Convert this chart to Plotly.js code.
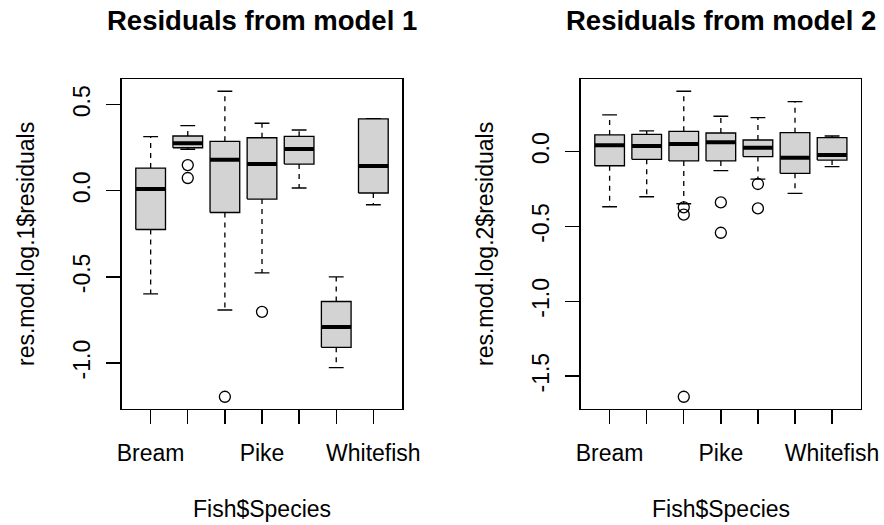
<!DOCTYPE html>
<html>
<head>
<meta charset="utf-8">
<script src="https://cdn.plot.ly/plotly-3.0.1.min.js"></script>
<style>html,body{margin:0;padding:0;background:#fff;}#chart{width:884px;height:525px;}</style>
</head>
<body>
<div id="chart"></div>
<script>
// ---- data ----
const species = ['Bream','Parkki','Perch','Pike','Roach','Smelt','Whitefish'];
const xTickText = ['Bream','','','Pike','','','Whitefish'];

// model 1 box statistics
const m1Lower  = [-0.599, 0.241, -0.692, -0.477, 0.016, -1.027, -0.081];
const m1Q1     = [-0.225, 0.250, -0.126, -0.048, 0.155, -0.909, -0.013];
const m1Median = [ 0.010, 0.276,  0.180,  0.155, 0.242, -0.791,  0.144];
const m1Q3     = [ 0.132, 0.318,  0.287,  0.308, 0.316, -0.643,  0.417];
const m1Upper  = [ 0.314, 0.378,  0.578,  0.392, 0.353, -0.500,  0.419];
const m1OutSpecies = ['Parkki','Parkki','Perch','Pike'];
const m1OutValues  = [0.149, 0.074, -1.196, -0.703];
const m1YTickVals = [-1.0, -0.5, 0.0, 0.5];
const m1YTickText = ['-1.0','-0.5','0.0','0.5'];

// model 2 box statistics
const m2Lower  = [-0.368, -0.301, -0.348, -0.127, -0.183, -0.279, -0.100];
const m2Q1     = [-0.094, -0.051, -0.062, -0.062, -0.033, -0.145, -0.056];
const m2Median = [ 0.043,  0.038,  0.052,  0.063,  0.027, -0.040, -0.022];
const m2Q3     = [ 0.112,  0.116,  0.136,  0.125,  0.078,  0.127,  0.094];
const m2Upper  = [ 0.246,  0.139,  0.404,  0.237,  0.228,  0.335,  0.105];
const m2OutSpecies = ['Perch','Perch','Perch','Pike','Pike','Roach','Roach'];
const m2OutValues  = [-0.372, -0.421, -1.638, -0.339, -0.542, -0.216, -0.379];
const m2YTickVals = [-1.5, -1.0, -0.5, 0.0];
const m2YTickText = ['-1.5','-1.0','-0.5','0.0'];

const titles = ['Residuals from model 1','Residuals from model 2'];
const yTitles = ['res.mod.log.1$residuals','res.mod.log.2$residuals'];
const xTitle = 'Fish$Species';

// ---- drawing ----
const FONT = 'Liberation Sans, Arial, Helvetica, sans-serif';
const LW = 1.33;
const half = 0.4, staple = 0.2;

function panelTraces(lower, q1, med, q3, upper, outS, outV, xa, ya) {
  const bx=[],by=[],wx=[],wy=[],sx=[],sy=[],mx=[],my=[];
  species.forEach((s,i)=>{
    const c=i+1;
    bx.push(c-half,c+half,c+half,c-half,c-half,null);
    by.push(q1[i],q1[i],q3[i],q3[i],q1[i],null);
    wx.push(c,c,null,c,c,null);
    wy.push(q3[i],upper[i],null,q1[i],lower[i],null);
    sx.push(c-staple,c+staple,null,c-staple,c+staple,null);
    sy.push(upper[i],upper[i],null,lower[i],lower[i],null);
    mx.push(c-half,c+half,null);
    my.push(med[i],med[i],null);
  });
  const ox = outS.map(s=>species.indexOf(s)+1);
  const base={xaxis:xa,yaxis:ya,mode:'lines',hoverinfo:'skip',showlegend:false};
  return [
    Object.assign({},base,{x:wx,y:wy,line:{color:'#000',width:LW,dash:'5px,5px'}}),
    Object.assign({},base,{x:sx,y:sy,line:{color:'#000',width:LW}}),
    Object.assign({},base,{x:bx,y:by,fill:'toself',fillcolor:'#d3d3d3',line:{color:'#000',width:LW}}),
    Object.assign({},base,{x:mx,y:my,line:{color:'#000',width:4}}),
    {x:ox,y:outV,xaxis:xa,yaxis:ya,mode:'markers',showlegend:false,hoverinfo:'skip',
     marker:{symbol:'circle-open',size:11,color:'#000',line:{width:LW,color:'#000'}}}
  ];
}

function rng(lo, hi){ const a=Math.min(...lo), b=Math.max(...hi); const d=(b-a)*0.04; return [a-d,b+d]; }
const all1Lo = m1Lower.concat(m1OutValues), all1Hi = m1Upper.concat(m1OutValues);
const all2Lo = m2Lower.concat(m2OutValues), all2Hi = m2Upper.concat(m2OutValues);

const data = panelTraces(m1Lower,m1Q1,m1Median,m1Q3,m1Upper,m1OutSpecies,m1OutValues,'x','y')
  .concat(panelTraces(m2Lower,m2Q1,m2Median,m2Q3,m2Upper,m2OutSpecies,m2OutValues,'x2','y2'));

const W=884,H=525;
const xd1=[121.7/W,402.3/W], xd2=[580.7/W,861/W], yd=[(H-409)/H,(H-79)/H];
const nCat = species.length;
const xr=[0.5-0.04*nCat, nCat+0.5+0.04*nCat];

function xax(dom,anchor){return {domain:dom,anchor:anchor,range:xr,tickmode:'array',tickvals:species.map((s,i)=>i+1),ticktext:xTickText,
  ticks:'outside',ticklen:14,tickwidth:LW,tickcolor:'#000',showline:true,mirror:true,linecolor:'#000',linewidth:LW,
  showgrid:false,zeroline:false,tickfont:{family:FONT,size:23,color:'#000'},ticklabelstandoff:9};}
function yax(dom,anchor,r,tv,tt){return {domain:dom,anchor:anchor,range:r,tickmode:'array',tickvals:tv,ticktext:tt,tickangle:-90,
  ticks:'outside',ticklen:14,tickwidth:LW,tickcolor:'#000',showline:true,mirror:true,linecolor:'#000',linewidth:LW,
  showgrid:false,zeroline:false,tickfont:{family:FONT,size:23,color:'#000'},ticklabelstandoff:7};}

const centers=[(121.7+402.3)/2/W,(580.7+861)/2/W];
const ylabX=[26/W,485/W];
const annotations=[];
[0,1].forEach(p=>{
  annotations.push({xref:'paper',yref:'paper',x:centers[p],y:1-20.5/H,text:'<b>'+titles[p]+'</b>',showarrow:false,
    xanchor:'center',yanchor:'middle',font:{family:FONT,size:27.5,color:'#000'}});
  annotations.push({xref:'paper',yref:'paper',x:centers[p],y:1-509/H,text:xTitle,showarrow:false,
    xanchor:'center',yanchor:'middle',font:{family:FONT,size:23,color:'#000'}});
  annotations.push({xref:'paper',yref:'paper',x:ylabX[p],y:1-244/H,text:yTitles[p],showarrow:false,textangle:-90,
    xanchor:'center',yanchor:'middle',font:{family:FONT,size:23,color:'#000'}});
});

const layout={width:W,height:H,margin:{l:0,r:0,t:0,b:0},paper_bgcolor:'#fff',plot_bgcolor:'#fff',showlegend:false,
  xaxis:xax(xd1,'y'),yaxis:yax(yd,'x',rng(all1Lo,all1Hi),m1YTickVals,m1YTickText),
  xaxis2:xax(xd2,'y2'),yaxis2:yax(yd,'x2',rng(all2Lo,all2Hi),m2YTickVals,m2YTickText),
  annotations:annotations};
Plotly.newPlot('chart',data,layout,{staticPlot:true});
</script>
</body>
</html>
